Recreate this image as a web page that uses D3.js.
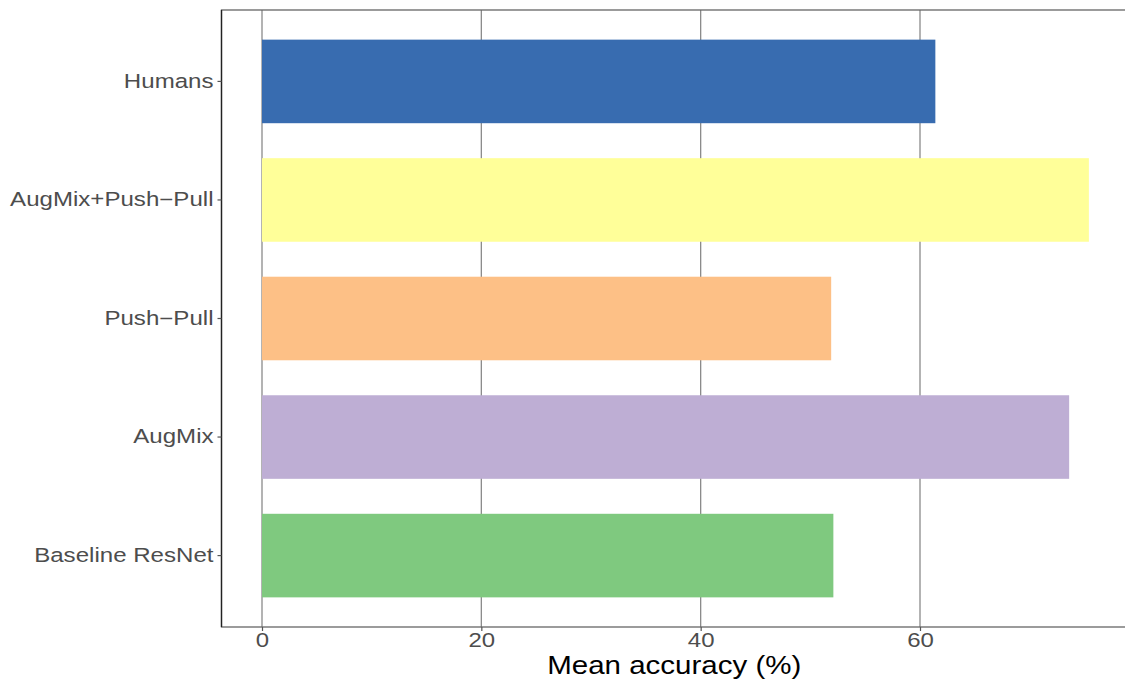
<!DOCTYPE html>
<html><head><meta charset="utf-8">
<script src="https://cdn.jsdelivr.net/npm/d3@7"></script>
<style>body{margin:0;background:#fff;} svg{display:block;font-family:"Liberation Sans",Arial,sans-serif;}</style>
</head><body>
<script>
const categories = ["Humans","AugMix+Push\u2212Pull","Push\u2212Pull","AugMix","Baseline ResNet"];
const values = [61.4, 75.4, 51.9, 73.6, 52.1];
const colors = ["#386CB0","#FFFF99","#FDC086","#BEAED4","#7FC97F"];
const xTicks = [0,20,40,60];
const xTitle = "Mean accuracy (%)";

const W=1125,H=681;
const panel={left:221.5,top:10,right:1127,bottom:627};
const svg=d3.select("body").append("svg").attr("width",W).attr("height",H);

const x=d3.scaleLinear().domain([0,60]).range([262,920]);
const y=d3.scaleBand().domain(categories).range([panel.top,panel.bottom]).paddingInner(0.295).paddingOuter(0.25);

// gridlines
svg.append("g").selectAll("line").data(xTicks).join("line")
  .attr("x1",d=>x(d)).attr("x2",d=>x(d)).attr("y1",panel.top).attr("y2",panel.bottom)
  .attr("stroke","#8a8a8a").attr("stroke-width",1.3);

// bars
svg.append("g").selectAll("rect").data(categories).join("rect")
  .attr("x",x(0)).attr("y",d=>y(d))
  .attr("width",(d,i)=>x(values[i])-x(0)).attr("height",y.bandwidth())
  .attr("fill",(d,i)=>colors[i]);

// panel border
svg.append("rect").attr("x",panel.left).attr("y",panel.top)
  .attr("width",panel.right-panel.left).attr("height",panel.bottom-panel.top)
  .attr("fill","none").attr("stroke","#666").attr("stroke-width",1.3);
svg.append("line").attr("x1",panel.left).attr("x2",panel.left).attr("y1",panel.top).attr("y2",panel.bottom)
  .attr("stroke","#222").attr("stroke-width",1.3);

// x axis
const sx=1.2;
const xa=svg.append("g").attr("transform",`translate(0,${panel.bottom})`)
  .call(d3.axisBottom(x).tickValues(xTicks).tickSize(4).tickPadding(1.5));
xa.select(".domain").remove();
xa.selectAll("line").attr("stroke","#555").attr("stroke-width",1.2);
xa.selectAll("text").attr("fill","#4d4d4d").style("font-size","20px")
  .attr("transform",`scale(${sx},1)`);

// y axis
const sy=1.235;
const ya=svg.append("g").attr("transform",`translate(${panel.left},0)`)
  .call(d3.axisLeft(y).tickSize(4).tickPadding(3));
ya.select(".domain").remove();
ya.selectAll("line").attr("stroke","#555").attr("stroke-width",1.2);
ya.selectAll("text").attr("fill","#4d4d4d").style("font-size","19.5px")
  .attr("x",-8/sy).attr("transform",`scale(${sy},1)`);

const tx=(panel.left+panel.right)/2, st=1.18;
svg.append("text").attr("transform",`translate(${tx},674) scale(${st},1)`)
  .attr("text-anchor","middle").style("font-size","25px").attr("fill","#000").text(xTitle);
</script>
</body></html>
